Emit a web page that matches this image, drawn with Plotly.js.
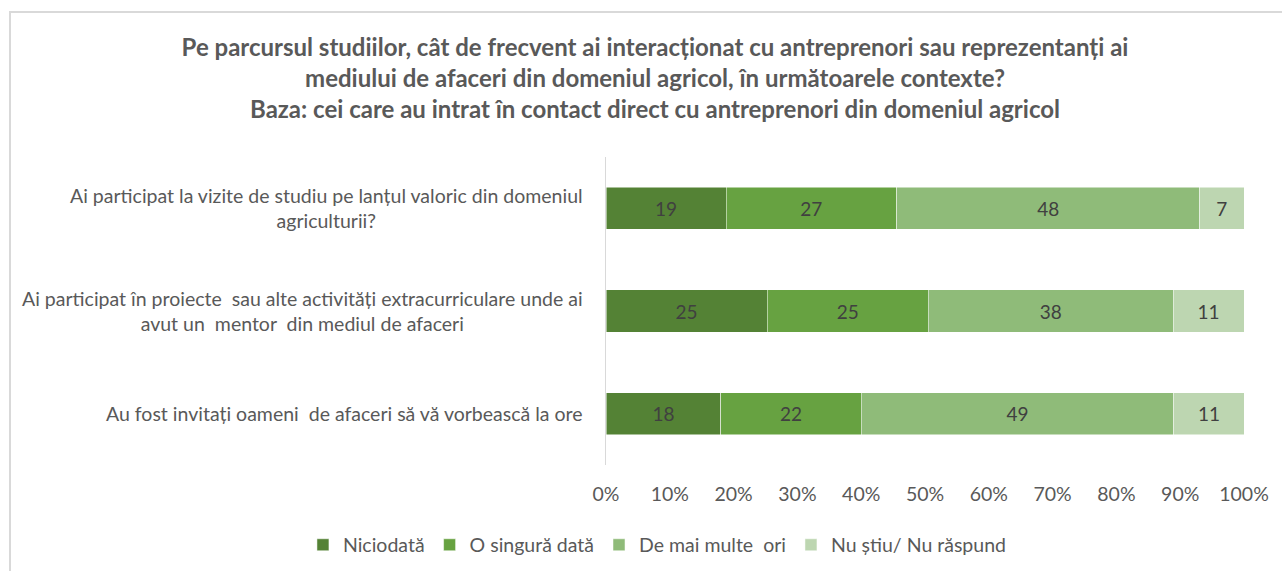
<!DOCTYPE html>
<html>
<head>
<meta charset="utf-8">
<script src="https://cdn.plot.ly/plotly-3.0.1.min.js"></script>
<style>
  body { margin: 0; background: #fff; }
  #chart { position: absolute; left: 9px; top: 11px; width: 1273px; height: 560px;
           border-left: 2px solid #d9d9d9; border-top: 2px solid #d9d9d9; box-sizing: border-box; }
</style>
</head>
<body>
<div id="chart"></div>
<script>
var categories = [
    'Ai participat la vizite de studiu pe lanțul valoric din domeniul<br>agriculturii?',
    'Ai participat în proiecte  sau alte activități extracurriculare unde ai<br>avut un  mentor  din mediul de afaceri',
    'Au fost invitați oameni  de afaceri să vă vorbească la ore'
];
var seriesNames = ['Niciodată', 'O singură dată', 'De mai multe  ori', 'Nu știu/ Nu răspund'];
var niciodata = [19, 25, 18];
var oSinguraData = [27, 25, 22];
var deMaiMulteOri = [48, 38, 49];
var nuStiu = [7, 11, 11];
var colors = ['#548235', '#67a241', '#8fbb79', '#bdd6b1'];

var titleText = 'Pe parcursul studiilor, cât de frecvent ai interacționat cu antreprenori sau reprezentanți ai<br>' +
    'mediului de afaceri din domeniul agricol, în următoarele contexte?<br>' +
    'Baza: cei care au intrat în contact direct cu antreprenori din domeniul agricol';

var font = 'Lato, "Open Sans", sans-serif';
var grey = '#595959';

var values = [niciodata, oSinguraData, deMaiMulteOri, nuStiu];
var traces = values.map(function (v, i) {
    return {
        type: 'bar',
        orientation: 'h',
        name: seriesNames[i],
        x: v,
        y: categories,
        text: v.map(String),
        texttemplate: '%{text}',
        textposition: 'inside',
        insidetextanchor: 'middle',
        textfont: {family: font, size: 19, color: '#404040'},
        marker: {color: colors[i], line: {color: '#ffffff', width: 0.5}},
        hoverinfo: 'skip'
    };
});

// category labels, centred lines like the original
var annotations = categories.map(function (c) {
    return {
        xref: 'paper', yref: 'y', x: -0.033, y: c,
        xanchor: 'right', yanchor: 'middle', align: 'center',
        text: c, showarrow: false,
        font: {family: font, size: 19.5, color: grey}
    };
});

var layout = {
    width: 1271,
    height: 558,
    margin: {l: 595, r: 38, t: 144, b: 106, autoexpand: false},
    paper_bgcolor: '#fff',
    plot_bgcolor: '#fff',
    title: {
        text: '<b>' + titleText + '</b>',
        xref: 'container', x: 0.5067, xanchor: 'center',
        yref: 'container', y: 0.923, yanchor: 'middle',
        font: {family: font, size: 24, color: grey}
    },
    barmode: 'stack',
    barnorm: 'percent',
    bargap: 0.59,
    xaxis: {
        range: [0, 100],
        dtick: 10,
        ticksuffix: '%',
        showgrid: false,
        zeroline: false,
        showline: false,
        ticklabelstandoff: 15,
        tickfont: {family: font, size: 19.5, color: grey}
    },
    yaxis: {
        autorange: 'reversed',
        showticklabels: false,
        showgrid: false,
        zeroline: false,
        showline: true,
        linecolor: '#d9d9d9',
        linewidth: 1.5
    },
    showlegend: true,
    legend: {
        orientation: 'h',
        xref: 'paper', x: -0.475, xanchor: 'left',
        yref: 'paper', y: -0.26, yanchor: 'middle',
        font: {family: font, size: 19.5, color: grey},
        traceorder: 'normal'
    },
    annotations: annotations
};

Plotly.newPlot('chart', traces, layout, {displayModeBar: false, staticPlot: true});
</script>
</body>
</html>
